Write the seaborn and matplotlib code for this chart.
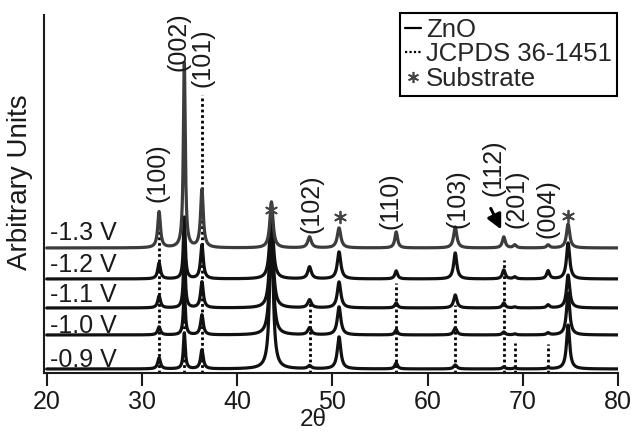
import numpy as np
import pandas as pd
import matplotlib
matplotlib.use("Agg")
import matplotlib.pyplot as plt
from matplotlib.lines import Line2D
import seaborn as sns

sns.set_theme(style="white")
plt.rcParams["font.family"] = ["Liberation Sans", "DejaVu Sans"]

# ---------------- data ----------------
voltages = ["-1.3 V", "-1.2 V", "-1.1 V", "-1.0 V", "-0.9 V"]
offsets = [125, 94, 65, 38, 4]
trace_colors = ["#3c3c3c", "#111111", "#111111", "#111111", "#111111"]

peak_positions = [31.8, 34.45, 36.3, 43.6, 47.6, 50.7, 56.7, 62.9, 68.0, 69.15, 72.65, 74.75]
peak_hwhm = [0.17, 0.12, 0.17, 0.2, 0.22, 0.22, 0.17, 0.2, 0.18, 0.18, 0.18, 0.2]
peak_heights = {
    "-1.3 V": [36, 186, 58, 46, 11, 20, 16, 21, 11, 3, 3, 24],
    "-1.2 V": [16, 62, 34, 75, 12, 27, 8, 26, 9, 2, 8, 36],
    "-1.1 V": [12, 58, 26, 100, 8, 26, 5, 13, 5, 1, 3, 33],
    "-1.0 V": [8, 45, 20, 125, 7, 28, 5, 7, 3, 1, 2, 42],
    "-0.9 V": [11, 36, 19, 160, 3, 32, 6, 4, 2, 1, 1, 44],
}

jcpds_pos = [31.8, 34.45, 36.3, 47.6, 56.7, 62.9, 68.0, 69.15, 72.65]
jcpds_top = [158, 122, 278, 73, 90, 68, 113, 30, 29]

hkl_labels = ["(100)", "(002)", "(101)", "(102)", "(110)", "(103)", "(112)", "(201)", "(004)"]
hkl_x = [31.6, 33.8, 36.4, 47.8, 56.05, 63.1, 66.9, 69.3, 72.55]
hkl_y = [200, 331, 315, 169, 172, 174, 205, 174, 164]

star_x = [43.6, 50.8, 74.7]
star_y = [163, 156, 157]

label_x = 20.3
label_y = [133, 101, 71, 40, 6]

x_ticks = [20, 30, 40, 50, 60, 70, 80]

# ---------------- build traces ----------------
two_theta = np.linspace(20, 80, 3001)
rows = []
for v, off in zip(voltages, offsets):
    y = np.full_like(two_theta, off, dtype=float)
    for p, w, h in zip(peak_positions, peak_hwhm, peak_heights[v]):
        y += h / (1 + ((two_theta - p) / w) ** 2)
    rows.append(pd.DataFrame({"two_theta": two_theta, "intensity": y, "voltage": v}))
df = pd.concat(rows, ignore_index=True)

# ---------------- plot ----------------
fig = plt.figure(figsize=(6.34, 4.34), dpi=100)
ax = fig.add_axes([0.0699, 0.1406, 0.905, 0.825])

ax.vlines(jcpds_pos, 0, jcpds_top, colors="black", linestyles=(0, (1, 1)),
          linewidth=2, zorder=1)

sns.lineplot(data=df, x="two_theta", y="intensity", hue="voltage",
             hue_order=voltages[::-1], palette=dict(zip(voltages, trace_colors)),
             linewidth=2.3, estimator=None, sort=False, legend=False, ax=ax, zorder=2)

for v, ly in zip(voltages, label_y):
    ax.text(label_x, ly, v, fontsize=18, ha="left", va="baseline", color="#1a1a1a")

for lab, x, y in zip(hkl_labels, hkl_x, hkl_y):
    ax.text(x, y, lab, rotation=90, fontsize=18, ha="center", va="center", color="#1a1a1a")

ax.scatter(star_x, star_y, marker=(6, 2, 0), s=70, color="#444444", linewidths=1.3, zorder=3)

ax.annotate("", xy=(67.85, 141), xytext=(66.5, 167),
            arrowprops=dict(arrowstyle="-|>", color="black", lw=2.2, mutation_scale=22))

ax.set_xlim(19.75, 80)
ax.set_ylim(0, 358)
ax.set_xticks(x_ticks)
ax.set_xticklabels([str(t) for t in x_ticks])
ax.set_yticks([])
ax.tick_params(axis="x", direction="out", length=9, width=1.5, pad=3,
               labelsize=18, colors="#1a1a1a", bottom=True)
for s in ["top", "right"]:
    ax.spines[s].set_visible(False)
for s in ["left", "bottom"]:
    ax.spines[s].set_color("#1a1a1a")
    ax.spines[s].set_linewidth(1.5)

ax.set_xlabel("2θ", fontsize=17.5, color="#1a1a1a")
ax.xaxis.set_label_coords(0.468, -0.1)
ax.set_ylabel("Arbitrary Units", fontsize=20, color="#1a1a1a")
ax.yaxis.set_label_coords(-0.02, 0.534)

handles = [
    Line2D([], [], color="black", lw=1.6, ls="-"),
    Line2D([], [], color="black", lw=1.6, ls=(0, (1, 1))),
    Line2D([], [], color="#444444", ls="none", marker=(6, 2, 0), markersize=8, markeredgewidth=1.2),
]
leg = ax.legend(handles, ["ZnO", "JCPDS 36-1451", "Substrate"], loc="upper right",
                bbox_to_anchor=(0.998, 1.006), borderaxespad=0, fontsize=18.5,
                handlelength=0.6, handletextpad=0.2, borderpad=0.2, labelspacing=0.02,
                frameon=True, fancybox=False, framealpha=1, edgecolor="black")
leg.get_frame().set_linewidth(1.5)

fig.savefig("out.png", dpi=100)
